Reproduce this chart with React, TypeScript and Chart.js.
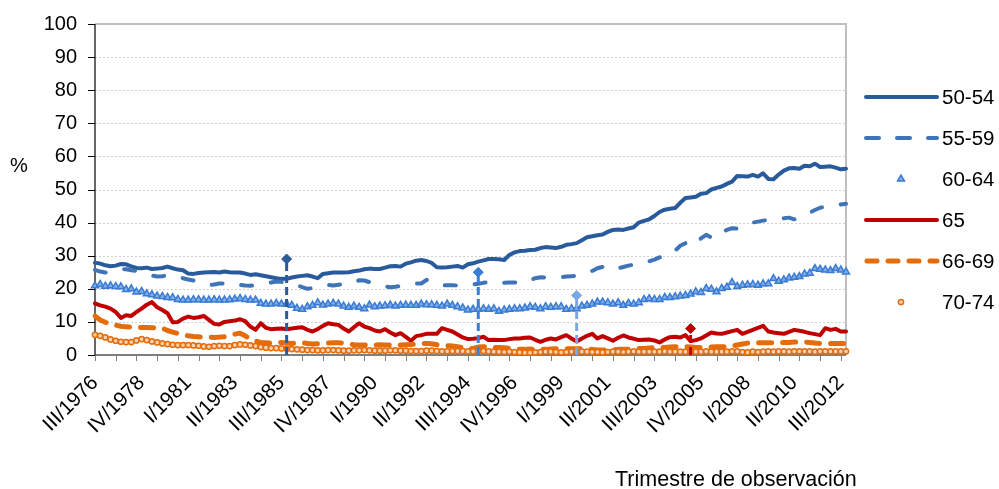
import React, { useEffect, useRef } from 'react';
import { Chart, registerables } from 'chart.js';

Chart.register(...registerables);

const FONT = "'Liberation Sans', Arial, Helvetica, sans-serif";

// ---------- categories (quarters III/1976 .. IV/2012) ----------
const ROMAN = ['I', 'II', 'III', 'IV'];
const FIRST_YEAR = 1976;
const FIRST_QUARTER = 2; // III
const N_QUARTERS = 146;
const quarters: string[] = Array.from({ length: N_QUARTERS }, (_, i) => {
  const q = FIRST_QUARTER + i;
  return `${ROMAN[q % 4]}/${FIRST_YEAR + Math.floor(q / 4)}`;
});

const tickLabels = [
  'III/1976', 'IV/1978', 'I/1981', 'II/1983', 'III/1985', 'IV/1987', 'I/1990', 'II/1992', 'III/1994',
  'IV/1996', 'I/1999', 'II/2001', 'III/2003', 'IV/2005', 'I/2008', 'II/2010', 'III/2012',
];
const yTicks = [0, 10, 20, 30, 40, 50, 60, 70, 80, 90, 100];

// ---------- series ----------
const seriesNames = ['50-54', '55-59', '60-64', '65', '66-69', '70-74'];

const s5054 = [
  27.9, 27.6, 27.1, 26.8, 27.0, 27.5, 27.4, 26.8, 26.3, 26.2,
  26.4, 26.0, 26.1, 26.3, 26.7, 26.2, 25.8, 25.6, 24.6, 24.5,
  24.8, 24.9, 25.0, 25.1, 24.9, 25.2, 25.0, 24.9, 24.9, 24.6,
  24.2, 24.4, 24.1, 23.8, 23.5, 23.2, 23.0, 23.0, 23.4, 23.7,
  23.9, 24.1, 23.7, 23.2, 24.5, 24.7, 24.9, 24.9, 24.9, 25.0,
  25.3, 25.5, 25.9, 26.1, 26.0, 26.0, 26.4, 26.8, 26.9, 26.7,
  27.6, 28.0, 28.5, 28.7, 28.4, 27.8, 26.5, 26.4, 26.5, 26.7,
  26.9, 26.4, 27.4, 27.7, 28.2, 28.6, 29.0, 29.0, 28.9, 28.7,
  30.2, 31.0, 31.4, 31.5, 31.7, 31.8, 32.3, 32.6, 32.5, 32.3,
  32.7, 33.3, 33.5, 33.8, 34.7, 35.6, 35.9, 36.2, 36.4, 37.2,
  37.8, 37.9, 37.8, 38.2, 38.6, 40.0, 40.5, 41.0, 42.0, 43.2,
  43.9, 44.2, 44.4, 46.0, 47.4, 47.6, 47.8, 48.7, 48.9, 50.0,
  50.5, 50.9, 51.7, 52.4, 54.1, 54.0, 53.9, 54.4, 53.9, 54.9,
  53.2, 53.1, 54.5, 55.7, 56.4, 56.5, 56.3, 57.2, 57.0, 57.8,
  56.8, 56.9, 57.0, 56.6, 56.1, 56.3,
];

const s5559 = [
  25.7, 25.2, 24.9, 25.2, 25.8, 26.0, 25.9, 25.6, 25.4, 24.8,
  24.3, 24.0, 23.7, 23.8, 24.1, 24.0, 23.8, 23.2, 22.8, 22.5,
  21.8, 21.4, 21.2, 21.3, 21.6, 21.6, 21.0, 20.9, 21.2, 21.0,
  20.9, 21.2, 21.5, 21.8, 21.9, 22.2, 22.1, 21.7, 21.5, 21.2,
  20.5, 20.0, 20.2, 20.7, 21.1, 21.2, 21.0, 21.2, 21.5, 21.4,
  21.9, 22.6, 22.5, 22.0, 21.5, 21.1, 20.7, 20.5, 20.6, 20.9,
  21.0, 21.3, 21.6, 21.6, 22.7, 22.3, 21.7, 21.0, 21.1, 21.1,
  21.0, 20.9, 21.0, 21.3, 21.5, 21.8, 22.0, 22.3, 22.0, 21.8,
  21.9, 21.9, 21.7, 21.8, 22.6, 23.2, 23.5, 23.4, 23.5, 23.4,
  23.5, 23.7, 23.8, 23.9, 24.3, 24.9, 25.4, 26.2, 26.6, 25.7,
  25.9, 26.2, 26.6, 27.0, 27.3, 27.5, 27.8, 28.3, 28.8, 29.5,
  29.8, 30.1, 31.5, 33.0, 33.8, 35.0, 34.0, 35.2, 36.3, 35.5,
  35.3, 37.0, 37.8, 38.3, 38.2, 39.2, 39.6, 40.0, 40.3, 40.6,
  40.8, 40.9, 41.2, 41.3, 41.5, 41.0, 41.6, 42.3, 43.0, 43.8,
  44.5, 44.8, 45.0, 45.2, 45.5, 45.7,
];

const s6064 = [
  20.9, 21.3, 20.8, 20.9, 20.7, 20.6, 19.8, 20.0, 19.0, 19.2,
  18.5, 18.2, 17.8, 17.7, 17.4, 17.3, 16.8, 16.6, 16.6, 16.7,
  16.7, 16.6, 16.6, 16.7, 16.6, 16.6, 16.7, 16.9, 17.1, 16.8,
  16.6, 16.6, 15.6, 15.4, 15.4, 15.6, 15.4, 15.4, 15.0, 14.1,
  13.8, 14.6, 15.0, 15.8, 15.1, 15.4, 15.6, 15.4, 14.8, 14.4,
  14.8, 14.4, 14.0, 15.1, 14.6, 14.8, 14.9, 15.1, 14.8, 15.0,
  15.1, 15.0, 15.0, 15.4, 15.2, 15.2, 15.0, 14.8, 15.4, 15.0,
  14.6, 14.2, 13.6, 13.8, 13.8, 14.0, 13.8, 14.0, 13.2, 13.6,
  13.8, 14.0, 14.0, 14.2, 14.6, 14.4, 14.0, 14.6, 14.4, 14.6,
  14.6, 13.8, 14.0, 14.0, 14.8, 15.0, 15.4, 16.0, 16.0, 15.8,
  15.4, 15.8, 15.0, 15.6, 15.4, 15.8, 16.8, 17.0, 16.8, 16.8,
  17.4, 17.4, 17.6, 17.8, 18.0, 18.4, 19.1, 18.9, 20.1, 19.9,
  19.1, 20.1, 20.5, 21.9, 20.7, 21.1, 21.2, 21.3, 21.1, 21.5,
  21.5, 23.1, 22.3, 22.7, 23.3, 23.5, 23.7, 24.5, 24.7, 26.1,
  25.9, 25.7, 25.5, 26.1, 25.7, 25.1,
];

const s65 = [
  15.6, 15.0, 14.6, 14.0, 13.0, 11.2, 12.0, 11.8, 13.0, 14.0,
  15.2, 16.0, 14.4, 13.6, 12.6, 9.9, 10.0, 11.0, 11.6, 11.2,
  11.4, 11.8, 10.6, 9.4, 9.2, 10.0, 10.2, 10.4, 10.8, 10.2,
  8.6, 7.6, 9.6, 8.2, 7.8, 7.9, 8.0, 7.8, 8.0, 8.2,
  8.4, 7.6, 7.1, 7.8, 8.8, 9.6, 9.3, 9.1, 8.0, 7.1,
  8.4, 9.6, 8.6, 8.1, 7.4, 7.1, 7.8, 6.8, 6.0, 6.6,
  5.5, 4.3, 5.7, 6.0, 6.4, 6.4, 6.4, 8.1, 7.6, 7.1,
  6.2, 5.3, 4.8, 4.9, 5.1, 5.5, 4.5, 4.6, 4.5, 4.5,
  4.8, 5.0, 5.0, 5.2, 5.3, 4.6, 4.0, 4.6, 5.0, 4.7,
  5.4, 6.0, 5.0, 4.1, 5.0, 5.8, 6.4, 5.0, 5.7, 5.0,
  4.3, 5.2, 5.9, 5.3, 4.9, 4.5, 4.6, 4.7, 4.4, 3.8,
  4.7, 5.4, 5.5, 5.3, 6.0, 4.2, 4.5, 5.0, 5.9, 6.8,
  6.5, 6.4, 6.8, 7.2, 7.6, 6.4, 7.0, 7.6, 8.2, 8.8,
  7.1, 6.8, 6.6, 6.4, 7.0, 7.6, 7.3, 7.0, 6.6, 6.3,
  6.0, 8.1, 7.6, 7.9, 7.1, 7.1,
];

const s6669 = [
  11.8, 10.6, 9.9, 9.3, 9.0, 8.7, 8.5, 8.4, 8.3, 8.3,
  8.3, 8.2, 8.2, 8.1, 7.4, 6.9, 6.5, 6.1, 5.8, 5.6,
  5.5, 5.4, 5.4, 5.3, 5.4, 5.5, 5.8, 6.3, 6.6, 5.8,
  4.8, 4.2, 3.8, 3.7, 3.6, 3.6, 3.8, 3.6, 3.5, 3.6,
  3.7, 3.5, 3.3, 3.4, 3.5, 3.6, 3.7, 3.7, 3.6, 3.3,
  3.1, 3.0, 3.0, 3.0, 3.0, 3.1, 3.0, 3.0, 3.0, 3.0,
  3.1, 3.2, 3.3, 3.4, 3.5, 3.4, 3.1, 2.9, 2.8, 2.7,
  2.5, 2.3, 1.8, 2.0, 2.4, 2.5, 2.3, 2.3, 2.3, 2.2,
  2.0, 1.8, 1.7, 1.7, 1.8, 1.7, 1.7, 1.7, 1.8, 1.9,
  1.9, 1.9, 1.9, 1.9, 1.9, 1.9, 1.7, 1.5, 1.5, 1.5,
  1.6, 1.7, 1.7, 1.7, 1.8, 2.0, 2.0, 2.1, 2.2, 2.3,
  2.3, 2.4, 2.5, 2.5, 2.5, 2.4, 2.3, 2.3, 2.3, 2.4,
  2.5, 2.5, 2.5, 2.7, 3.0, 3.3, 3.6, 3.7, 3.7, 3.7,
  3.7, 3.7, 3.8, 3.8, 3.8, 3.9, 3.9, 3.9, 3.8, 3.6,
  3.5, 3.5, 3.5, 3.5, 3.5, 3.5,
];

const s7074 = [
  6.1, 5.8, 5.3, 4.7, 4.3, 4.0, 3.9, 3.9, 4.4, 4.8,
  4.5, 4.1, 3.8, 3.5, 3.3, 3.1, 3.0, 3.0, 3.0, 2.9,
  2.8, 2.6, 2.5, 2.7, 2.8, 2.7, 2.7, 3.0, 3.2, 3.1,
  2.9, 2.7, 2.4, 2.2, 2.1, 2.1, 2.0, 1.9, 1.8, 1.7,
  1.6, 1.5, 1.5, 1.4, 1.4, 1.5, 1.5, 1.4, 1.3, 1.3,
  1.4, 1.4, 1.5, 1.4, 1.3, 1.3, 1.3, 1.4, 1.4, 1.3,
  1.3, 1.2, 1.2, 1.2, 1.3, 1.3, 1.2, 1.1, 1.1, 1.2,
  1.2, 1.2, 1.1, 1.1, 1.2, 1.2, 1.1, 1.0, 1.0, 0.9,
  1.0, 0.9, 0.8, 0.7, 0.7, 0.8, 0.9, 1.0, 1.0, 0.9,
  0.8, 0.9, 1.0, 1.0, 1.0, 1.0, 0.9, 0.9, 0.8, 0.9,
  1.0, 1.0, 0.9, 1.0, 1.1, 1.0, 1.0, 1.0, 1.0, 1.0,
  1.1, 1.0, 1.0, 1.0, 1.0, 1.1, 1.0, 1.0, 1.1, 1.0,
  1.0, 1.0, 1.0, 1.1, 1.1, 0.9, 0.8, 1.0, 0.9, 1.0,
  1.1, 1.0, 1.1, 1.1, 1.0, 1.1, 1.1, 1.1, 1.1, 1.0,
  1.1, 1.1, 1.1, 1.1, 1.1, 1.1,
];

// vertical reference markers
const markerLabels = ['IV/1985', 'I/1995', 'IV/1999', 'II/2005'];
const markerValues = [29, 25, 18, 8];

// ---------- styles ----------
const C5054 = '#285A9C';
const C5559 = '#3F74B8';
const C6064 = '#3A7BD3';
const C6064_FILL = '#7FAEE8';
const C65 = '#C00000';
const C6669 = '#E46C0A';
const C7074_FILL = '#FAD0B0';
const markerColors = ['#285A9C', '#3A7DD5', '#7BA7E2', '#C00000'];

const DASH_5559 = [11, 19];
const DASH_6669 = [13, 11];

const framePlugin = {
  id: 'frame',
  beforeDatasetsDraw(chart: any) {
    const { ctx, chartArea } = chart;
    const { left, right, top, bottom } = chartArea;
    const x = chart.scales.x;
    const y = chart.scales.y;
    ctx.save();
    // dotted gridlines
    ctx.lineWidth = 1;
    ctx.strokeStyle = '#D0D0D0';
    ctx.setLineDash([2, 2]);
    yTicks.forEach((v) => {
      if (v === 0 || v === 100) return;
      const py = Math.round(y.getPixelForValue(v)) + 0.5;
      ctx.beginPath();
      ctx.moveTo(left, py);
      ctx.lineTo(right, py);
      ctx.stroke();
    });
    ctx.setLineDash([]);
    // top + right border
    ctx.strokeStyle = '#BFBFBF';
    ctx.lineWidth = 2;
    ctx.beginPath();
    ctx.moveTo(left, top);
    ctx.lineTo(right, top);
    ctx.lineTo(right, bottom);
    ctx.stroke();
    // axes
    ctx.strokeStyle = '#000';
    ctx.lineWidth = 1.2;
    ctx.beginPath();
    ctx.moveTo(left, top);
    ctx.lineTo(left, bottom);
    ctx.lineTo(right, bottom);
    ctx.stroke();
    // y tick marks
    ctx.lineWidth = 1;
    yTicks.forEach((v) => {
      const py = Math.round(y.getPixelForValue(v)) + 0.5;
      ctx.beginPath();
      ctx.moveTo(left - 7, py);
      ctx.lineTo(left, py);
      ctx.stroke();
    });
    // x tick marks (yearly)
    ctx.strokeStyle = '#808080';
    quarters.forEach((_, i) => {
      if (i % 4 !== 0) return;
      const px = Math.round(x.getPixelForValue(i)) + 0.5;
      ctx.beginPath();
      ctx.moveTo(px, bottom);
      ctx.lineTo(px, bottom + 6);
      ctx.stroke();
    });
    ctx.restore();
  },
};

function drawTriangle(ctx: CanvasRenderingContext2D, cx: number, cy: number, r: number) {
  const a = (2 * Math.PI) / 3;
  ctx.beginPath();
  ctx.moveTo(cx, cy - r);
  ctx.lineTo(cx + Math.sin(a) * r, cy - Math.cos(a) * r);
  ctx.lineTo(cx + Math.sin(2 * a) * r, cy - Math.cos(2 * a) * r);
  ctx.closePath();
}

const legendPlugin = {
  id: 'customLegend',
  afterDraw(chart: any) {
    const { ctx } = chart;
    ctx.save();
    const x0 = 866;
    const x1 = 937;
    const xm = 901;
    const tx = 942;
    seriesNames.forEach((name, i) => {
      const yy = 97 + i * 41;
      ctx.setLineDash([]);
      ctx.lineCap = 'round';
      if (name === '50-54' || name === '65') {
        ctx.strokeStyle = name === '65' ? C65 : C5054;
        ctx.lineWidth = 4;
        ctx.beginPath();
        ctx.moveTo(x0, yy);
        ctx.lineTo(x1, yy);
        ctx.stroke();
      } else if (name === '55-59') {
        ctx.strokeStyle = C5559;
        ctx.lineWidth = 4;
        ctx.setLineDash([13, 18]);
        ctx.beginPath();
        ctx.moveTo(x0, yy);
        ctx.lineTo(x1, yy);
        ctx.stroke();
      } else if (name === '66-69') {
        ctx.strokeStyle = C6669;
        ctx.lineWidth = 5;
        ctx.setLineDash([10, 11]);
        ctx.beginPath();
        ctx.moveTo(x0 + 1, yy);
        ctx.lineTo(x1, yy);
        ctx.stroke();
      } else if (name === '60-64') {
        ctx.fillStyle = C6064_FILL;
        ctx.strokeStyle = C6064;
        ctx.lineWidth = 1.5;
        drawTriangle(ctx, xm, yy, 4);
        ctx.fill();
        ctx.stroke();
      } else {
        ctx.fillStyle = C7074_FILL;
        ctx.strokeStyle = C6669;
        ctx.lineWidth = 1.5;
        ctx.beginPath();
        ctx.arc(xm, yy, 2.6, 0, Math.PI * 2);
        ctx.fill();
        ctx.stroke();
      }
      ctx.setLineDash([]);
      ctx.fillStyle = '#000';
      ctx.font = `20.5px ${FONT}`;
      ctx.textAlign = 'left';
      ctx.textBaseline = 'middle';
      ctx.fillText(name, tx, yy + 1);
    });
    ctx.fillStyle = '#000';
    ctx.font = `20px ${FONT}`;
    ctx.textAlign = 'center';
    ctx.textBaseline = 'middle';
    ctx.fillText('%', 19, 166);
    ctx.textAlign = 'left';
    ctx.textBaseline = 'alphabetic';
    ctx.font = `21.5px ${FONT}`;
    ctx.fillText('Trimestre de observación', 615, 486);
    ctx.restore();
  },
};

export default function App() {
  const canvasRef = useRef<HTMLCanvasElement | null>(null);

  useEffect(() => {
    const canvas = canvasRef.current;
    if (!canvas) return;

    const markerDatasets = markerLabels.map((lab, k) => ({
      type: 'line' as const,
      label: `marker-${k}`,
      data: [
        { x: lab, y: 0 },
        { x: lab, y: markerValues[k] },
      ],
      borderColor: markerColors[k],
      borderWidth: 3,
      borderDash: [8, 4],
      pointRadius: [0, 5],
      pointStyle: 'rectRot',
      pointBackgroundColor: markerColors[k],
      pointBorderColor: markerColors[k],
      pointBorderWidth: 1,
      order: 0,
    }));

    const chart = new Chart(canvas, {
      type: 'line',
      data: {
        labels: quarters,
        datasets: [
          {
            label: seriesNames[0], data: s5054, borderColor: C5054, borderWidth: 4,
            pointRadius: 0, borderCapStyle: 'round', borderJoinStyle: 'round', order: 6,
          },
          {
            label: seriesNames[1], data: s5559, borderColor: C5559, borderWidth: 4,
            borderDash: DASH_5559, pointRadius: 0, borderCapStyle: 'round', borderJoinStyle: 'round', order: 5,
          },
          {
            label: seriesNames[2], data: s6064, showLine: false, pointStyle: 'triangle', pointRadius: 4,
            pointBorderColor: C6064, pointBackgroundColor: C6064_FILL, pointBorderWidth: 1.5, order: 4,
          },
          {
            label: seriesNames[3], data: s65, borderColor: C65, borderWidth: 4,
            pointRadius: 0, borderCapStyle: 'round', borderJoinStyle: 'round', order: 3,
          },
          {
            label: seriesNames[4], data: s6669, borderColor: C6669, borderWidth: 5,
            borderDash: DASH_6669, pointRadius: 0, borderCapStyle: 'round', borderJoinStyle: 'round', order: 2,
          },
          {
            label: seriesNames[5], data: s7074, showLine: false, pointStyle: 'circle', pointRadius: 2.6,
            pointBorderColor: C6669, pointBackgroundColor: C7074_FILL, pointBorderWidth: 1.5, order: 1,
          },
          ...markerDatasets,
        ] as any,
      },
      options: {
        animation: false,
        responsive: false,
        devicePixelRatio: 1,
        events: [],
        layout: { padding: { left: 0, right: 153, top: 24, bottom: 0 } },
        plugins: {
          legend: { display: false },
          tooltip: { enabled: false },
          title: { display: false },
        },
        scales: {
          x: {
            type: 'category',
            offset: false,
            grid: { display: false, drawTicks: false },
            border: { display: false },
            ticks: {
              autoSkip: false,
              minRotation: 45,
              maxRotation: 45,
              padding: 16,
              color: '#000',
              font: { family: FONT, size: 20.5 },
              callback: (_v: any, i: number) => (tickLabels.includes(quarters[i]) ? quarters[i] : ''),
            },
            afterFit: (scale: any) => {
              scale.height = 134;
              scale.paddingLeft = 0;
              scale.paddingRight = 0;
            },
          },
          y: {
            min: 0,
            max: 100,
            grid: { display: false, drawTicks: false },
            border: { display: false },
            ticks: {
              stepSize: 10,
              padding: 18,
              color: '#000',
              font: { family: FONT, size: 20 },
            },
            afterFit: (scale: any) => {
              scale.width = 95;
              scale.paddingTop = 0;
              scale.paddingBottom = 0;
            },
          },
        },
      } as any,
      plugins: [framePlugin, legendPlugin],
    });

    return () => {
      chart.destroy();
    };
  }, []);

  return (
    <div style={{ position: 'fixed', left: 0, top: 0, width: 999, height: 489, background: '#fff' }}>
      <canvas ref={canvasRef} width={999} height={489} style={{ display: 'block', width: 999, height: 489 }} />
    </div>
  );
}
